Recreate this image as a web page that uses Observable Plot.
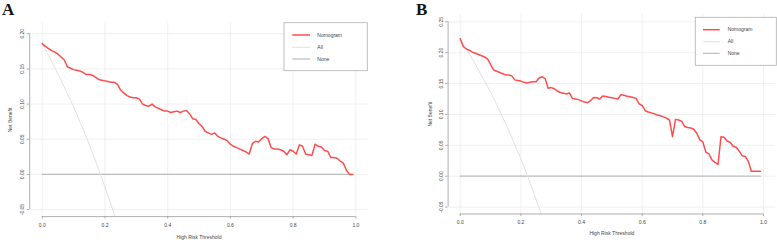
<!DOCTYPE html>
<html><head><meta charset="utf-8">
<script src="https://cdn.jsdelivr.net/npm/d3@7"></script>
<script src="https://cdn.jsdelivr.net/npm/@observablehq/plot@0.6"></script>
<style>
html,body{margin:0;padding:0;background:#fff;}
#wrap{position:relative;width:777px;height:243px;overflow:hidden;background:#fff;}
.panel{position:absolute;top:0;}
.tag{position:absolute;font-family:"Liberation Serif","Times New Roman",serif;font-weight:bold;font-size:17px;line-height:1;color:#111;}
</style></head><body><div id="wrap"></div>
<script>
const thresholds = [0.00,0.01,0.02,0.03,0.04,0.05,0.06,0.07,0.08,0.09,
0.10,0.11,0.12,0.13,0.14,0.15,0.16,0.17,0.18,0.19,
0.20,0.21,0.22,0.23,0.24,0.25,0.26,0.27,0.28,0.29,
0.30,0.31,0.32,0.33,0.34,0.35,0.36,0.37,0.38,0.39,
0.40,0.41,0.42,0.43,0.44,0.45,0.46,0.47,0.48,0.49,
0.50,0.51,0.52,0.53,0.54,0.55,0.56,0.57,0.58,0.59,
0.60,0.61,0.62,0.63,0.64,0.65,0.66,0.67,0.68,0.69,
0.70,0.71,0.72,0.73,0.74,0.75,0.76,0.77,0.78,0.79,
0.80,0.81,0.82,0.83,0.84,0.85,0.86,0.87,0.88,0.89,
0.90,0.91,0.92,0.93,0.94,0.95,0.96,0.97,0.98,0.99];

const nomogramA = [0.186,0.182,0.179,0.176,0.174,0.171,0.167,0.163,0.153,0.151,
0.149,0.148,0.147,0.145,0.142,0.142,0.141,0.138,0.135,0.134,
0.133,0.132,0.131,0.131,0.128,0.120,0.116,0.112,0.110,0.109,
0.109,0.107,0.100,0.098,0.097,0.100,0.096,0.094,0.092,0.090,
0.090,0.088,0.089,0.090,0.088,0.090,0.091,0.086,0.079,0.078,
0.072,0.068,0.061,0.059,0.057,0.059,0.054,0.052,0.050,0.048,
0.043,0.040,0.038,0.036,0.034,0.032,0.029,0.044,0.047,0.046,
0.051,0.054,0.051,0.038,0.036,0.036,0.035,0.033,0.028,0.035,
0.033,0.029,0.042,0.040,0.029,0.028,0.027,0.043,0.040,0.039,
0.034,0.033,0.024,0.024,0.023,0.019,0.016,0.006,0.000,0.000];

const nomogramB = [0.2225,0.210,0.206,0.204,0.201,0.199,0.197,0.195,0.193,0.190,
0.181,0.172,0.170,0.168,0.166,0.164,0.164,0.1625,0.156,0.155,
0.154,0.152,0.151,0.152,0.153,0.153,0.159,0.161,0.158,0.1425,
0.1435,0.1415,0.138,0.1355,0.1345,0.133,0.135,0.126,0.125,0.124,
0.122,0.120,0.119,0.1225,0.1275,0.127,0.125,0.130,0.129,0.128,
0.127,0.126,0.125,0.132,0.131,0.1295,0.1285,0.1275,0.126,0.117,
0.1145,0.106,0.104,0.1025,0.101,0.099,0.098,0.096,0.094,0.091,
0.064,0.092,0.091,0.089,0.0805,0.079,0.078,0.076,0.0695,0.059,
0.0555,0.039,0.036,0.0265,0.0225,0.019,0.064,0.063,0.057,0.055,
0.0485,0.047,0.0405,0.033,0.032,0.024,0.008,0.008,0.008,0.008];

const allThresholds = [0.00,0.02,0.04,0.06,0.08,0.10,0.12,0.14,0.16,0.18,0.20,0.22,0.24,0.26,0.28];
const allA = [0.186,0.169,0.152,0.134,0.115,0.096,0.075,0.054,0.031,0.007,-0.018,-0.044,-0.071,-0.100,-0.131];
const allB = [0.222,0.206,0.190,0.172,0.154,0.136,0.116,0.095,0.074,0.051,0.028,0.003,-0.024,-0.051,-0.081];

const noneThresholds = [0.00, 0.99];
const noneValues = [0, 0];

const xTicks = [0.0,0.2,0.4,0.6,0.8,1.0];
const yTicksA = [-0.05,0.00,0.05,0.10,0.15,0.20];
const yTicksB = [-0.05,0.00,0.05,0.10,0.15,0.20,0.25];

const legendLabels = ["Nomogram","All","None"];
const xTitle = "High Risk Threshold";
const yTitle = "Net Benefit";

const RED = "#ff4d4d", ALLC = "#e0e0e0", NONEC = "#bcbcbc", AXC = "#9a9a9a", TXT = "#444";
const FONT = "'Liberation Sans', Arial, sans-serif";

function makePanel(cfg) {
  const nomo = thresholds.map((t,i)=>({t, v: cfg.nomo[i]}));
  const all = allThresholds.map((t,i)=>({t, v: cfg.all[i]}));
  const none = noneThresholds.map((t,i)=>({t, v: noneValues[i]}));
  const yt = cfg.yTicks;
  const chart = Plot.plot({
    width: cfg.width, height: 243,
    marginLeft: cfg.ml, marginRight: cfg.mr, marginTop: cfg.mt, marginBottom: cfg.mb,
    style: {fontFamily: FONT, fontSize: "5px", color: TXT, background: "transparent", overflow: "visible"},
    x: {domain: [-0.04, 1.04]},
    y: {domain: cfg.yDomain},
    marks: [
      Plot.gridX(xTicks, {stroke: "#ececec", strokeOpacity: 1, strokeWidth: 0.8}),
      Plot.gridY(yt, {stroke: "#ececec", strokeOpacity: 1, strokeWidth: 0.8}),
      Plot.line(none, {x: "t", y: "v", stroke: NONEC, strokeWidth: 1.2}),
      Plot.line(all, {x: "t", y: "v", stroke: ALLC, strokeWidth: 1, clip: true, curve: "monotone-x"}),
      Plot.line(nomo, {x: "t", y: "v", stroke: RED, strokeWidth: 1.5}),
      Plot.ruleX([-0.04], {y1: yt[0], y2: yt[yt.length-1], stroke: AXC, strokeWidth: 0.8}),
      Plot.ruleY([cfg.yDomain[0]], {x1: xTicks[0], x2: xTicks[xTicks.length-1], stroke: AXC, strokeWidth: 0.8}),
      Plot.axisX(xTicks, {tickSize: 2.5, tickPadding: 4, stroke: AXC, strokeWidth: 0.8, tickFormat: d => d.toFixed(1), fontSize: 5, fill: TXT,
        label: xTitle, labelAnchor: "center", labelOffset: cfg.xLabelOffset, labelArrow: "none"}),
      Plot.axisY(yt, {tickSize: 2.5, tickPadding: 3, stroke: AXC, strokeWidth: 0.8, tickRotate: -90, tickFormat: d => d.toFixed(2), fontSize: 5, fill: TXT,
        label: yTitle, labelAnchor: "center", labelOffset: cfg.yLabelOffset, labelArrow: "none"})
    ]
  });
  chart.classList.add("panel");
  chart.style.left = cfg.left + "px";
  const svg = d3.select(chart);
  const lg = cfg.legend;
  const g = svg.append("g").attr("text-anchor", "start");
  g.append("rect").attr("x", lg.x0).attr("y", lg.y0).attr("width", lg.x1 - lg.x0).attr("height", lg.y1 - lg.y0)
    .attr("fill", "#fff").attr("stroke", "#b0b0b0").attr("stroke-width", 0.8);
  const cols = [RED, ALLC, NONEC];
  const widths = [1.5, 1, 1.2];
  legendLabels.forEach((lab, i) => {
    g.append("line").attr("x1", lg.lx0).attr("x2", lg.lx1).attr("y1", lg.rows[i]).attr("y2", lg.rows[i])
      .attr("stroke", cols[i]).attr("stroke-width", widths[i]);
    g.append("text").attr("x", lg.tx).attr("y", lg.rows[i]).attr("dy", "0.35em").attr("fill", TXT)
      .attr("text-anchor", "start").attr("font-size", 5).attr("font-family", FONT).text(lab);
  });
  document.getElementById("wrap").appendChild(chart);
  const tag = document.createElement("div");
  tag.className = "tag"; tag.textContent = cfg.tag;
  tag.style.left = cfg.tagX + "px"; tag.style.top = cfg.tagY + "px";
  document.getElementById("wrap").appendChild(tag);
}

makePanel({
  tag: "A", tagX: 2, tagY: 1,
  left: 0, width: 388, ml: 29.2, mr: 20.1, mt: 22.7, mb: 26.9,
  yDomain: [-0.06, 0.215], yTicks: yTicksA, nomo: nomogramA, all: allA,
  xLabelOffset: 22, yLabelOffset: 21,
  legend: {x0: 284, y0: 22.7, x1: 367.3, y1: 70.7, lx0: 292.3, lx1: 310, tx: 317.3, rows: [35, 47.3, 59]}
});
makePanel({
  tag: "B", tagX: 416, tagY: 1,
  left: 387, width: 390, ml: 60.6, mr: 1.9, mt: 13.9, mb: 29.5,
  yDomain: [-0.0612, 0.262], yTicks: yTicksB, nomo: nomogramB, all: allB,
  xLabelOffset: 21, yLabelOffset: 20,
  legend: {x0: 308.3, y0: 17.3, x1: 389.3, y1: 65.3, lx0: 316, lx1: 332.7, tx: 340.7, rows: [29.7, 41.7, 53.3]}
});
</script></body></html>
